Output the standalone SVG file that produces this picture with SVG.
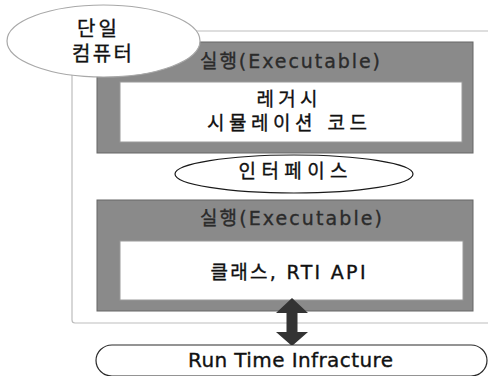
<svg xmlns="http://www.w3.org/2000/svg" width="488" height="376" viewBox="0 0 488 376">
  <style>
    text { font-family: "DejaVu Sans", "Noto Sans CJK KR", sans-serif; text-anchor: middle; }
    .label { font-size: 19px; fill: #111; stroke: #111; stroke-width: 0.35px; }
    .head { font-size: 19px; fill: #2b2b2b; stroke: #2b2b2b; stroke-width: 0.35px; }
    .exec { fill: #8a8a8a; stroke: #666666; stroke-width: 1; }
    .inner { fill: #ffffff; stroke: #9a9a9a; stroke-width: 1; }
    .bubble { fill: #ffffff; stroke: #1a1a1a; stroke-width: 1.2; }
  </style>

  <!-- single-computer boundary -->
  <rect id="boundary" x="72" y="31" width="430" height="292" rx="3" fill="#ffffff" stroke="#bdbdbd" stroke-width="1.2"/>

  <!-- upper executable: legacy simulation code -->
  <g id="exec-legacy">
    <rect class="exec" x="97" y="42" width="376" height="111"/>
    <text class="head" x="290" y="68" textLength="180" lengthAdjust="spacing">실행(Executable)</text>
    <rect class="inner" x="120" y="82" width="342" height="60"/>
    <text class="label" x="287" y="106" textLength="61" lengthAdjust="spacing">레거시</text>
    <text class="label" x="287" y="130" textLength="160" lengthAdjust="spacing">시뮬레이션 코드</text>
  </g>

  <!-- interface between the two executables -->
  <g id="interface">
    <ellipse class="bubble" cx="294" cy="174" rx="119" ry="19"/>
    <text class="label" x="293" y="178" textLength="109" lengthAdjust="spacing">인터페이스</text>
  </g>

  <!-- lower executable: classes and RTI API -->
  <g id="exec-rti">
    <rect class="exec" x="97" y="200" width="376" height="111"/>
    <text class="head" x="291" y="225" textLength="182" lengthAdjust="spacing">실행(Executable)</text>
    <rect class="inner" x="120" y="241" width="343" height="59"/>
    <text class="label" x="288" y="279" textLength="155" lengthAdjust="spacing">클래스, RTI API</text>
  </g>

  <!-- computer label bubble -->
  <g id="computer">
    <ellipse cx="103.5" cy="41" rx="96.5" ry="36" fill="#ffffff" stroke="#a8a8a8" stroke-width="1.2"/>
    <text class="label" x="97" y="36" style="font-size:20px" textLength="40" lengthAdjust="spacing">단일</text>
    <text class="label" x="102" y="61" style="font-size:20px" textLength="60" lengthAdjust="spacing">컴퓨터</text>
  </g>

  <!-- connectors -->
  <g id="connectors">
    <polygon points="292,298 308,313 297.5,313 297.5,332 308,332 292,346 276,332 286.5,332 286.5,313 276,313" fill="#333333"/>
  </g>

  <!-- run time infrastructure -->
  <g id="rti">
    <rect x="96" y="345" width="391" height="31" rx="16" fill="#ffffff" stroke="#2a2a2a" stroke-width="1.2"/>
    <text class="label" x="290.5" y="367" style="font-size:20px" textLength="205" lengthAdjust="spacing">Run Time Infracture</text>
  </g>
</svg>
